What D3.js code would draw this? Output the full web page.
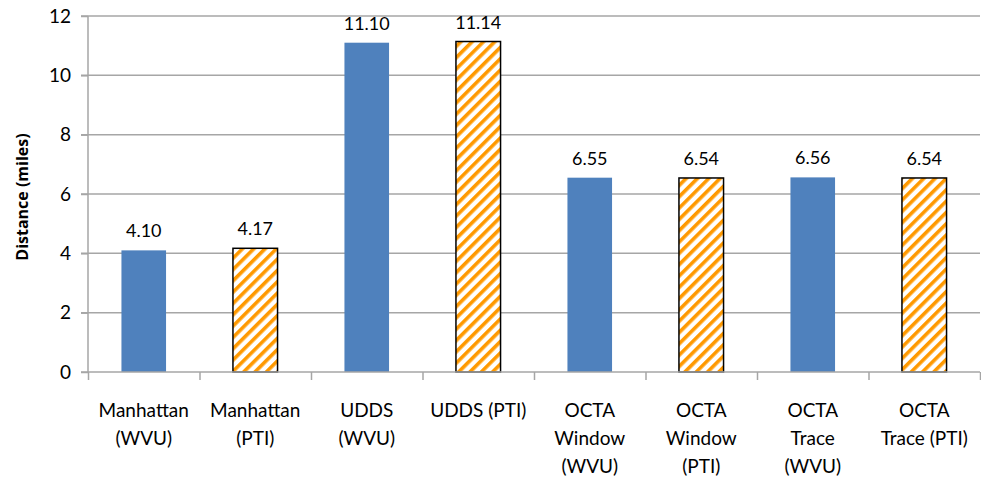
<!DOCTYPE html>
<html>
<head>
<meta charset="utf-8">
<script src="https://cdn.jsdelivr.net/npm/d3@7"></script>
<style>
  body { margin: 0; background: #fff; }
  svg { display: block; font-family: Lato, "Liberation Sans", sans-serif; }
</style>
</head>
<body>
<svg id="chart" width="981" height="477"></svg>
<script>
// Données
const categories = [
  ["Manhattan", "(WVU)"],
  ["Manhattan", "(PTI)"],
  ["UDDS", "(WVU)"],
  ["UDDS (PTI)"],
  ["OCTA", "Window", "(WVU)"],
  ["OCTA", "Window", "(PTI)"],
  ["OCTA", "Trace", "(WVU)"],
  ["OCTA", "Trace (PTI)"]
];
const distances = [4.10, 4.17, 11.10, 11.14, 6.55, 6.54, 6.56, 6.54];
const valueLabels = ["4.10", "4.17", "11.10", "11.14", "6.55", "6.54", "6.56", "6.54"];
const sources = ["WVU", "PTI", "WVU", "PTI", "WVU", "PTI", "WVU", "PTI"];
const yTicks = [0, 2, 4, 6, 8, 10, 12];

const svg = d3.select("#chart");
const margin = { left: 88, right: 1, top: 16, bottom: 105 };
const width = 981 - margin.left - margin.right;
const height = 477 - margin.top - margin.bottom;

// Motif hachuré orange
const defs = svg.append("defs");
const pat = defs.append("pattern")
  .attr("id", "hatch")
  .attr("patternUnits", "userSpaceOnUse")
  .attr("width", 8).attr("height", 8)
  .attr("patternTransform", "rotate(45)");
pat.append("rect").attr("width", 8).attr("height", 8).attr("fill", "#fff");
pat.append("rect").attr("x", 0).attr("width", 3.6).attr("height", 8).attr("fill", "#FF9900");

const g = svg.append("g").attr("transform", `translate(${margin.left},${margin.top})`);

const x = d3.scaleBand().domain(d3.range(categories.length)).range([0, width]).paddingInner(0).paddingOuter(0);
const y = d3.scaleLinear().domain([0, 12]).range([height, 0]);

// Quadrillage
g.append("g").selectAll("line")
  .data(yTicks.filter(d => d > 0))
  .join("line")
  .attr("x1", -7).attr("x2", width)
  .attr("y1", d => y(d)).attr("y2", d => y(d))
  .attr("stroke", "#a6a6a6").attr("stroke-width", 1.5);

// Barres
const bw = x.bandwidth() * 0.4;
g.append("g").selectAll("rect")
  .data(distances)
  .join("rect")
  .attr("x", (d, i) => x(i) + (x.bandwidth() - bw) / 2)
  .attr("y", d => y(d))
  .attr("width", bw)
  .attr("height", d => height - y(d))
  .attr("fill", (d, i) => sources[i] === "WVU" ? "#4F81BD" : "url(#hatch)")
  .attr("stroke", (d, i) => sources[i] === "WVU" ? "none" : "#000")
  .attr("stroke-width", 1.5);

// Étiquettes de valeurs
g.append("g").selectAll("text")
  .data(distances)
  .join("text")
  .attr("x", (d, i) => x(i) + x.bandwidth() / 2)
  .attr("y", d => y(d) - 13)
  .attr("text-anchor", "middle")
  .attr("font-size", 18)
  .attr("fill", "#000")
  .text((d, i) => valueLabels[i]);

// Axe Y
const yAxis = g.append("g")
  .call(d3.axisLeft(y).tickValues(yTicks).tickSize(7).tickPadding(10).tickFormat(d3.format("d")));
yAxis.select(".domain").attr("stroke", "#a6a6a6").attr("stroke-width", 1.5).attr("d", `M0,0V${height}`);
yAxis.selectAll(".tick line").attr("stroke", "#a6a6a6").attr("stroke-width", 1.5);
yAxis.selectAll(".tick text").attr("font-size", 19).attr("fill", "#000").attr("font-family", "Lato, sans-serif");

// Axe X
const xAxis = g.append("g")
  .attr("transform", `translate(0,${height})`)
  .call(d3.axisBottom(d3.scaleLinear().domain([0, categories.length]).range([0, width]))
    .tickValues(d3.range(categories.length + 1)).tickSize(8).tickFormat(""));
xAxis.select(".domain").attr("stroke", "#a6a6a6").attr("stroke-width", 1.5).attr("d", `M-7,0H${width}`);
xAxis.selectAll(".tick line").attr("stroke", "#a6a6a6").attr("stroke-width", 1.5);

const xl = g.append("g").selectAll("text")
  .data(categories)
  .join("text")
  .attr("text-anchor", "middle")
  .attr("font-size", 19)
  .attr("fill", "#000");
xl.each(function (lines, i) {
  d3.select(this).selectAll("tspan")
    .data(lines)
    .join("tspan")
    .attr("x", x(i) + x.bandwidth() / 2)
    .attr("y", (l, k) => height + 45 + k * 28)
    .text(l => l);
});

// Titre de l'axe Y
svg.append("text")
  .attr("transform", `translate(28,${margin.top + height / 2 + 3}) rotate(-90)`)
  .attr("text-anchor", "middle")
  .attr("font-size", 16)
  .attr("font-weight", "bold")
  .attr("font-family", "'Open Sans', sans-serif")
  .attr("fill", "#000")
  .text("Distance (miles)");
</script>
</body>
</html>
